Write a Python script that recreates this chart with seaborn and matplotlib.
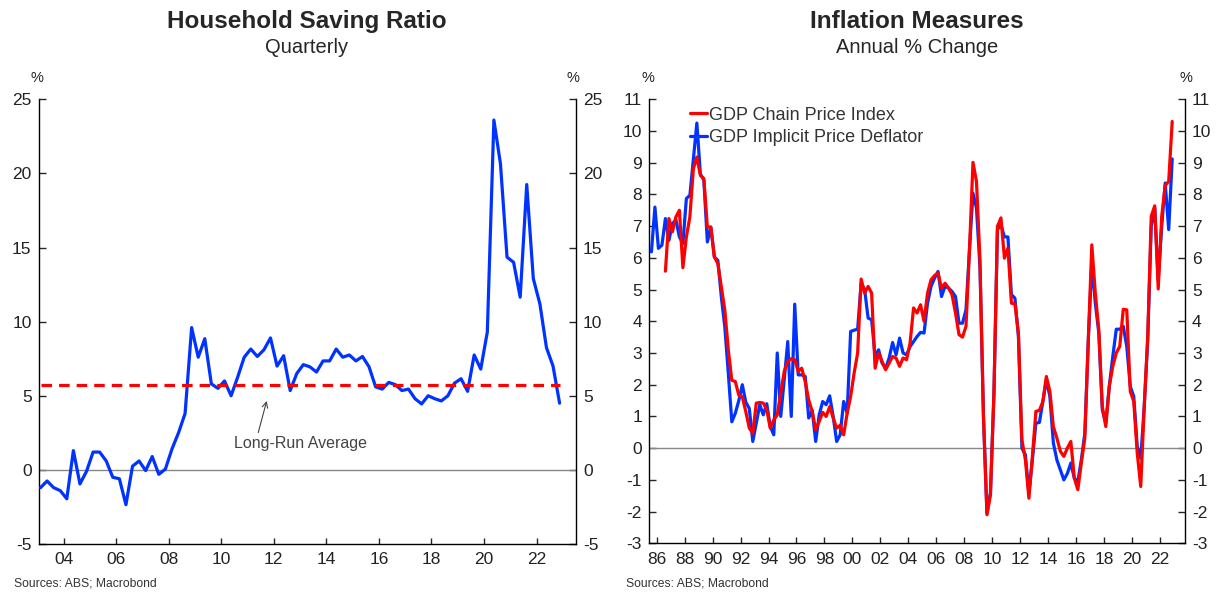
import numpy as np
import pandas as pd
import seaborn as sns
import matplotlib.pyplot as plt

# Colours
BLUE = "#0033ff"
RED = "#ff0000"
GREY = "#333333"

# Household saving ratio, quarterly from 2003Q1 (%)
saving_ratio = [
    -1.2, -0.75, -1.2, -1.4, -1.95, 1.3, -0.95, -0.1, 1.2, 1.2,
    0.6, -0.5, -0.6, -2.35, 0.25, 0.6, -0.05, 0.9, -0.3, 0.05,
    1.4, 2.5, 3.8, 9.6, 7.6, 8.85, 5.8, 5.5, 6.0, 5.0,
    6.25, 7.6, 8.15, 7.65, 8.1, 8.9, 7.0, 7.7, 5.35, 6.5,
    7.1, 6.95, 6.6, 7.35, 7.35, 8.15, 7.6, 7.75, 7.35, 7.65,
    6.95, 5.6, 5.45, 5.9, 5.75, 5.35, 5.45, 4.8, 4.45, 5.0,
    4.8, 4.65, 5.0, 5.85, 6.15, 5.3, 7.75, 6.8, 9.3, 23.6,
    20.65, 14.35, 14.0, 11.65, 19.25, 12.9, 11.2, 8.25, 7.0, 4.5,
]
saving_start = "2003Q1"
long_run_avg = 5.7

# GDP implicit price deflator, annual % change, quarterly from 1985Q3
deflator = [
    6.19, 7.6, 6.3, 6.4, 7.24, 6.55, 7.08, 7.2, 6.66, 6.45,
    7.87, 7.97, 9.1, 10.25, 8.65, 8.45, 6.5, 6.97, 6.03, 5.92,
    4.77, 3.82, 2.35, 0.83, 1.1, 1.5, 2.0, 1.45, 1.25, 0.21,
    0.79, 1.37, 1.05, 1.4, 0.68, 0.42, 3.0, 1.0, 2.16, 3.36,
    1.0, 4.54, 2.31, 2.31, 2.26, 0.95, 1.19, 0.21, 1.05, 1.47,
    1.37, 1.65, 1.0, 0.21, 0.42, 1.47, 1.1, 3.68, 3.72, 3.75,
    5.2, 5.0, 4.1, 4.05, 2.89, 3.1, 2.68, 2.52, 2.84, 3.33,
    2.94, 3.47, 3.0, 2.94, 3.2, 3.36, 3.52, 3.65, 3.63, 4.57,
    5.1, 5.36, 5.57, 4.78, 5.1, 5.05, 4.94, 4.78, 3.94, 3.94,
    4.36, 6.26, 8.04, 7.57, 5.7, 1.0, -2.05, -1.4, 1.73, 6.89,
    7.05, 6.66, 6.66, 4.84, 4.73, 3.52, 0.0, -0.21, -1.42, -0.37,
    0.79, 0.81, 1.47, 2.16, 1.63, 0.16, -0.37, -0.68, -1.0, -0.8,
    -0.47, -0.95, -1.05, -0.37, 0.47, 3.42, 5.84, 4.57, 3.63, 1.21,
    0.79, 1.95, 2.89, 3.75, 3.75, 3.84, 3.21, 1.95, 1.63, 0.05,
    -0.32, 1.31, 3.42, 6.99, 7.57, 5.3, 6.99, 8.36, 6.89, 9.12,
]
deflator_start = "1985Q3"

# GDP chain price index, annual % change, quarterly from 1986Q3
chain_index = [
    5.58, 7.24, 6.82, 7.29, 7.5, 5.69, 6.66, 7.29, 8.81, 9.18,
    8.6, 8.5, 6.97, 6.97, 6.03, 5.82, 5.08, 4.35, 3.1, 2.14,
    2.1, 1.67, 1.62, 1.15, 0.63, 0.47, 1.42, 1.44, 1.42, 1.21,
    0.63, 0.89, 1.05, 1.73, 2.42, 2.73, 2.82, 2.79, 2.42, 2.52,
    2.1, 1.52, 1.16, 0.58, 0.84, 1.13, 1.0, 1.31, 0.95, 0.63,
    0.72, 0.42, 1.1, 1.63, 2.37, 3.0, 5.33, 4.89, 5.1, 4.89,
    2.52, 3.0, 2.73, 2.47, 2.68, 2.89, 2.84, 2.58, 2.84, 2.79,
    3.31, 4.42, 4.26, 4.52, 4.0, 4.89, 5.31, 5.44, 5.52, 5.05,
    5.2, 5.05, 4.84, 4.26, 3.58, 3.5, 3.84, 6.26, 9.01, 8.41,
    5.94, 1.0, -2.1, -1.47, 1.73, 6.99, 7.26, 5.99, 6.31, 4.57,
    4.55, 3.63, 0.26, -0.37, -1.58, -0.26, 1.16, 1.19, 1.47, 2.26,
    1.79, 0.68, 0.32, -0.1, -0.26, 0.0, 0.21, -0.95, -1.31, -0.47,
    0.32, 3.42, 6.41, 4.89, 3.73, 1.31, 0.68, 1.95, 2.58, 3.0,
    3.21, 4.38, 4.36, 1.79, 1.47, -0.16, -1.21, 1.31, 3.52, 7.31,
    7.64, 5.02, 7.31, 8.28, 8.41, 10.3,
]
chain_start = "1986Q3"


def quarter_years(start, n):
    """Decimal year at the middle of each quarter"""
    periods = pd.period_range(start, periods=n, freq="Q")
    return periods.year + (periods.quarter - 1) / 4 + 0.125


def style_axis(ax, ylim, yticks, xlim, xticks):
    ax.set_xlim(*xlim)
    ax.set_ylim(*ylim)
    ax.set_yticks(yticks)
    ax.set_yticklabels([str(t) for t in yticks])
    ax.set_xticks(xticks)
    ax.set_xticklabels([f"{t % 100:02d}" for t in xticks])
    ax.axhline(0, color="#888888", lw=1.0, zorder=1)
    for side in ["left", "right", "bottom"]:
        ax.spines[side].set_visible(True)
        ax.spines[side].set_color("black")
        ax.spines[side].set_linewidth(1.0)
    ax.spines["top"].set_visible(False)
    ax.tick_params(axis="y", direction="in", left=True, right=True,
                   labelleft=True, labelright=True, length=5, width=1,
                   labelsize=12.5, pad=5, labelcolor="#222222")
    ax.tick_params(axis="x", direction="in", length=4, width=1,
                   labelsize=12.5, pad=6, labelcolor="#222222")


sns.set_style("ticks")
plt.rcParams["font.family"] = ["Liberation Sans", "DejaVu Sans"]

df_sav = pd.DataFrame({"year": quarter_years(saving_start, len(saving_ratio)),
                       "ratio": saving_ratio})
df_defl = pd.DataFrame({"year": quarter_years(deflator_start, len(deflator)),
                        "value": deflator})
df_chain = pd.DataFrame({"year": quarter_years(chain_start, len(chain_index)),
                         "value": chain_index})

fig = plt.figure(figsize=(12.16, 5.92), dpi=100)
ax1 = fig.add_axes([0.0317, 0.0811, 0.4420, 0.7512])
ax2 = fig.add_axes([0.5337, 0.0823, 0.4408, 0.7500])

# Left: household saving ratio
style_axis(ax1, (-5, 25), list(range(-5, 30, 5)), (2003.05, 2023.5), list(range(2004, 2024, 2)))
sns.lineplot(data=df_sav, x="year", y="ratio", ax=ax1, color=BLUE, lw=2.3, zorder=3)
ax1.hlines(long_run_avg, df_sav["year"].iloc[0], df_sav["year"].iloc[-1],
           color=RED, lw=2.3, linestyles=(0, (3.3, 2.2)), zorder=4)
ax1.annotate("", xy=(2011.73, 4.65), xytext=(2011.41, 2.52),
             arrowprops=dict(arrowstyle="->", color="#444444", lw=0.8,
                             shrinkA=0, shrinkB=0))
ax1.text(2013.0, 1.8, "Long-Run Average", ha="center", va="center",
         fontsize=11.5, color="#444444")
ax1.set_xlabel("")
ax1.set_ylabel("")

# Right: inflation measures
style_axis(ax2, (-3, 11), list(range(-3, 12)), (1985.45, 2023.79), list(range(1986, 2024, 2)))
sns.lineplot(data=df_defl, x="year", y="value", ax=ax2, color=BLUE, lw=2.3,
             zorder=3, label="GDP Implicit Price Deflator")
sns.lineplot(data=df_chain, x="year", y="value", ax=ax2, color=RED, lw=2.3,
             zorder=4, label="GDP Chain Price Index")
ax2.set_xlabel("")
ax2.set_ylabel("")
handles, labels = ax2.get_legend_handles_labels()
ax2.legend(handles[::-1], labels[::-1], loc="upper left", bbox_to_anchor=(0.063, 1.0),
           frameon=False, fontsize=13, handlelength=0.95, handletextpad=0.12,
           labelspacing=0.3, labelcolor="#333333", borderaxespad=0)

# Titles and notes
for xc, title, sub in [(0.2525, "Household Saving Ratio", "Quarterly"),
                       (0.7541, "Inflation Measures", "Annual % Change")]:
    fig.text(xc, 0.964, title, ha="center", va="center", fontsize=17.5, fontweight="bold")
    fig.text(xc, 0.920, sub, ha="center", va="center", fontsize=14.5)

for xp in [37, 573, 648, 1186]:
    fig.text(xp / 1216, 1 - 78 / 592, "%", ha="center", va="center", fontsize=10.5, color="#222222")

fig.text(14 / 1216, 1 - 583 / 592, "Sources: ABS; Macrobond", ha="left", va="center",
         fontsize=8.7, color="#333333")
fig.text(626 / 1216, 1 - 583 / 592, "Sources: ABS; Macrobond", ha="left", va="center",
         fontsize=8.7, color="#333333")

plt.savefig("out.png", dpi=100)
